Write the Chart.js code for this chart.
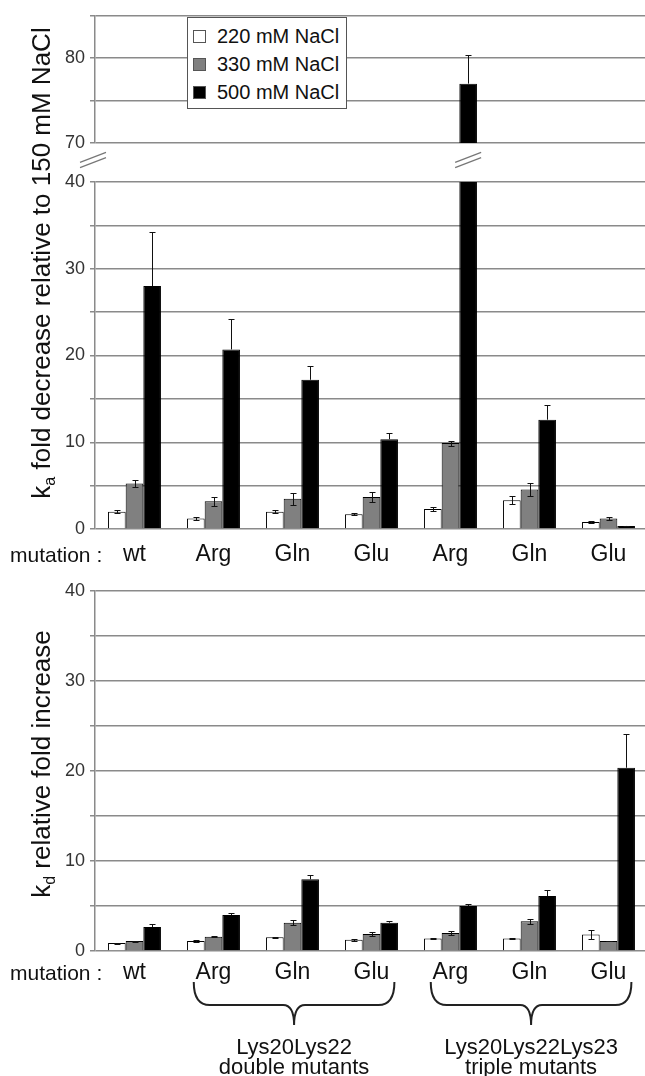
<!DOCTYPE html>
<html><head><meta charset="utf-8">
<script src="https://cdn.jsdelivr.net/npm/chart.js@4.4.0/dist/chart.umd.min.js"></script>
<style>
html,body{margin:0;padding:0;background:#fff;}
body{width:645px;height:1076px;overflow:hidden;position:relative;font-family:"Liberation Sans",Arial,sans-serif;color:#111;}
canvas{position:absolute;left:0;}
.txt{position:absolute;white-space:nowrap;font-size:21px;line-height:24px;color:#111;}
.ytitle{position:absolute;white-space:nowrap;font-size:26px;line-height:30px;color:#111;transform:translate(-50%,-50%) rotate(-90deg);}
.ytitle sub{font-size:16px;vertical-align:-5px;line-height:0;}
#legend{position:absolute;left:187px;top:17px;width:158px;height:90px;border:1px solid #555;background:#fff;z-index:5;}
#legend .row{position:absolute;left:0;height:22px;}
#legend .sw{position:absolute;left:5px;top:5px;width:11px;height:11px;border:1px solid #555;}
#legend .lab{position:absolute;left:29px;top:0;font-size:20px;line-height:22px;white-space:nowrap;color:#111;}
.grp{position:absolute;white-space:nowrap;text-align:center;font-size:22px;line-height:20px;color:#111;transform:translateX(-50%);}
</style>
</head>
<body>
<canvas id="cA" width="650" height="160" style="top:0px"></canvas>
<canvas id="cB" width="650" height="435" style="top:145px"></canvas>
<canvas id="cC" width="650" height="501" style="top:575px"></canvas>
<div id="legend"></div>
<div class="ytitle" style="left:41px;top:263px">k<sub>a</sub> fold decrease relative to 150 mM NaCl</div>
<div class="ytitle" style="left:41px;top:764px">k<sub>d</sub> relative fold increase</div>
<div class="txt" style="left:10px;top:543px">mutation :</div>
<div class="txt" style="left:10px;top:961px">mutation :</div>
<script>
// ---------- data ----------
const categories = ['wt', 'Arg', 'Gln', 'Glu', 'Arg', 'Gln', 'Glu'];
const seriesNames = ['220 mM NaCl', '330 mM NaCl', '500 mM NaCl'];
const seriesColors = ['#ffffff', '#808080', '#000000'];

const ka220 = [2.0, 1.2, 2.0, 1.7, 2.3, 3.3, 0.8];
const ka220Err = [0.2, 0.2, 0.15, 0.1, 0.25, 0.45, 0.1];
const ka330 = [5.25, 3.2, 3.5, 3.7, 9.9, 4.55, 1.2];
const ka330Err = [0.4, 0.5, 0.7, 0.55, 0.3, 0.7, 0.15];
const ka500 = [28.0, 20.7, 17.2, 10.35, 77.0, 12.6, 0.35];
const ka500Err = [6.2, 3.5, 1.6, 0.75, 3.4, 1.75, 0.05];

const kd220 = [0.88, 1.1, 1.53, 1.24, 1.39, 1.39, 1.83];
const kd220Err = [0.05, 0.08, 0.08, 0.08, 0.08, 0.08, 0.55];
const kd330 = [1.1, 1.57, 3.14, 1.9, 2.0, 3.29, 1.1];
const kd330Err = [0.06, 0.05, 0.25, 0.2, 0.18, 0.3, 0.03];
const kd500 = [2.66, 4.0, 7.96, 3.14, 5.0, 6.1, 20.35];
const kd500Err = [0.3, 0.24, 0.44, 0.22, 0.26, 0.62, 3.7];

const kaUpperTickLabels = [70, 80];
const kaLowerTickLabels = [0, 10, 20, 30, 40];
const kdTickLabels = [0, 10, 20, 30, 40];

const groupLabels = [['Lys20Lys22', 'double mutants'], ['Lys20Lys22Lys23', 'triple mutants']];
const groupFrom = [1, 4];
const groupTo = [3, 6];

// ---------- setup ----------
Chart.defaults.font.family = '"Liberation Sans", Arial, sans-serif';
Chart.defaults.color = '#222';

function makeDatasets(vals, errs) {
  return vals.map((v, i) => ({
    label: seriesNames[i],
    data: v,
    errors: errs[i],
    backgroundColor: seriesColors[i],
    borderColor: '#000',
    borderWidth: 1,
    categoryPercentage: 0.67,
    barPercentage: 1.0
  }));
}

const errorBars = {
  id: 'errorBars',
  afterDatasetsDraw(chart) {
    const {ctx, chartArea: a} = chart;
    const y = chart.scales.y;
    ctx.save();
    ctx.beginPath();
    ctx.rect(a.left, a.top, a.right - a.left, a.bottom - a.top);
    ctx.clip();
    ctx.strokeStyle = '#111';
    ctx.lineWidth = 1;
    chart.data.datasets.forEach((ds, i) => {
      const meta = chart.getDatasetMeta(i);
      const dark = ds.backgroundColor === '#000000';
      meta.data.forEach((bar, j) => {
        const v = ds.data[j], e = ds.errors[j];
        if (!e) return;
        const x = Math.round(bar.x) + 0.5;
        const yv = y.getPixelForValue(v);
        const yt = Math.round(y.getPixelForValue(v + e)) + 0.5;
        const yb = Math.round(y.getPixelForValue(v - e)) + 0.5;
        ctx.beginPath();
        if (dark) {
          ctx.moveTo(x, yt); ctx.lineTo(x, yv);
          ctx.moveTo(x - 3, yt); ctx.lineTo(x + 3, yt);
        } else {
          ctx.moveTo(x, yt); ctx.lineTo(x, yb);
          ctx.moveTo(x - 3, yt); ctx.lineTo(x + 3, yt);
          ctx.moveTo(x - 3, yb); ctx.lineTo(x + 3, yb);
        }
        ctx.stroke();
      });
    });
    ctx.restore();
  }
};

const breakMarks = {
  id: 'breakMarks',
  afterDraw(chart, args, opts) {
    if (!opts || !opts.enabled) return;
    const {ctx, chartArea: a} = chart;
    const y = chart.scales.y;
    const cy = a.top - 22;
    const xs = [a.left - 2];
    chart.data.datasets.forEach((ds, i) => {
      const meta = chart.getDatasetMeta(i);
      ds.data.forEach((v, j) => { if (v > y.max) xs.push(meta.data[j].x); });
    });
    ctx.save();
    ctx.strokeStyle = '#777';
    ctx.lineWidth = 1.2;
    xs.forEach(cx => {
      [-2.6, 2.6].forEach(off => {
        ctx.beginPath();
        ctx.moveTo(cx - 13, cy + 5 + off);
        ctx.lineTo(cx + 13, cy - 5 + off);
        ctx.stroke();
      });
    });
    ctx.restore();
  }
};

const braces = {
  id: 'braces',
  afterDraw(chart, args, opts) {
    if (!opts || !opts.enabled) return;
    const {ctx, chartArea: a} = chart;
    const x = chart.scales.x;
    const cw = x.getPixelForValue(1) - x.getPixelForValue(0);
    const tipY = a.bottom + 31, hy = a.bottom + 54, py = a.bottom + 74;
    ctx.save();
    ctx.strokeStyle = '#222';
    ctx.lineWidth = 2;
    groupFrom.forEach((f, g) => {
      const L = x.getPixelForValue(f) - 0.25 * cw;
      const R = x.getPixelForValue(groupTo[g]) + 0.29 * cw;
      const M = (L + R) / 2;
      ctx.beginPath();
      ctx.moveTo(L, tipY);
      ctx.quadraticCurveTo(L, hy, L + 16, hy);
      ctx.lineTo(M - 11, hy);
      ctx.quadraticCurveTo(M, hy, M, py);
      ctx.quadraticCurveTo(M, hy, M + 11, hy);
      ctx.lineTo(R - 16, hy);
      ctx.quadraticCurveTo(R, hy, R, tipY);
      ctx.stroke();
    });
    ctx.restore();
  }
};

function yScale(min, max, labels) {
  return {
    min: min, max: max,
    ticks: {stepSize: 5, autoSkip: false, padding: 5, font: {size: 18}, color: '#333',
      callback: v => labels.includes(v) ? String(v) : ''},
    grid: {color: '#8a8a8a', lineWidth: 1.5, tickLength: 5, drawTicks: true},
    border: {color: '#8a8a8a', width: 1.5},
    afterFit: s => { s.width = 95; }
  };
}

function xScale(show, h, pad) {
  return {
    display: show,
    grid: {display: false, drawTicks: false},
    border: {display: false},
    ticks: {font: {size: 23}, color: '#111', padding: pad, autoSkip: false, maxRotation: 0},
    afterFit: s => { s.height = h; }
  };
}

function makeChart(id, vals, errs, yOpts, xOpts, padding, plugOpts) {
  return new Chart(document.getElementById(id), {
    type: 'bar',
    data: {labels: categories, datasets: makeDatasets(vals, errs)},
    options: {
      responsive: false,
      maintainAspectRatio: false,
      animation: false,
      devicePixelRatio: 1,
      layout: {padding: padding},
      plugins: Object.assign({legend: {display: false}, tooltip: {enabled: false}}, plugOpts),
      scales: {x: xOpts, y: yOpts}
    },
    plugins: [errorBars, breakMarks, braces]
  });
}

const kaVals = [ka220, ka330, ka500];
const kaErrs = [ka220Err, ka330Err, ka500Err];
const kdVals = [kd220, kd330, kd500];
const kdErrs = [kd220Err, kd330Err, kd500Err];

makeChart('cA', kaVals, kaErrs, yScale(70, 85, kaUpperTickLabels), xScale(false, 0, 0),
  {top: 13, bottom: 17, left: 0, right: 2}, {});
makeChart('cB', kaVals, kaErrs, yScale(0, 40, kaLowerTickLabels), xScale(true, 51, 12),
  {top: 37, bottom: 0, left: 0, right: 2}, {breakMarks: {enabled: true}});
const chartC = makeChart('cC', kdVals, kdErrs, yScale(0, 40, kdTickLabels), xScale(true, 125, 8),
  {top: 10, bottom: 0, left: 0, right: 2}, {braces: {enabled: true}});

// legend
const leg = document.getElementById('legend');
seriesNames.forEach((n, i) => {
  const r = document.createElement('div');
  r.className = 'row';
  r.style.top = (7 + i * 28) + 'px';
  r.innerHTML = '<div class="sw" style="background:' + seriesColors[i] + '"></div><div class="lab">' + n + '</div>';
  leg.appendChild(r);
});

// group labels under braces
const xs = chartC.scales.x, ca = chartC.chartArea;
const cwC = xs.getPixelForValue(1) - xs.getPixelForValue(0);
const cTop = 575;
groupLabels.forEach((lines, g) => {
  const L = xs.getPixelForValue(groupFrom[g]) - 0.25 * cwC;
  const R = xs.getPixelForValue(groupTo[g]) + 0.29 * cwC;
  const d = document.createElement('div');
  d.className = 'grp';
  d.style.left = ((L + R) / 2) + 'px';
  d.style.top = (cTop + ca.bottom + 86) + 'px';
  d.innerHTML = lines.join('<br>');
  document.body.appendChild(d);
});
</script>
</body></html>
